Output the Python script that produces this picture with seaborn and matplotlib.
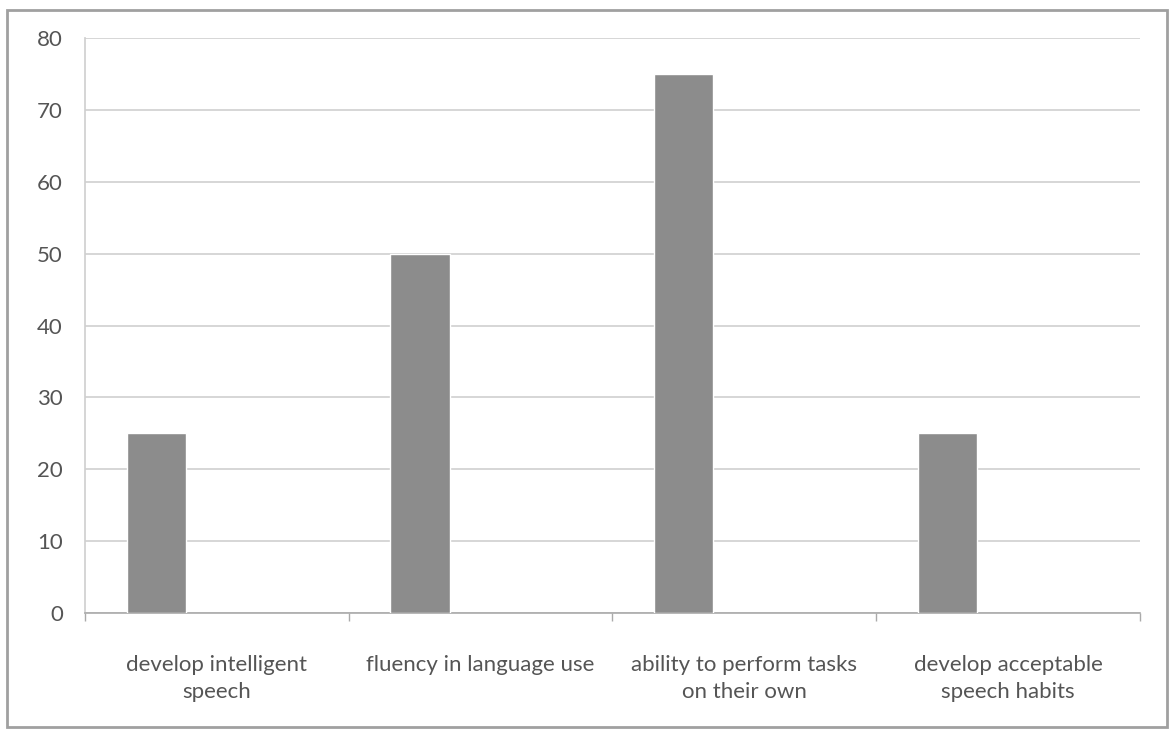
import matplotlib
matplotlib.use("Agg")
import matplotlib.pyplot as plt
import numpy as np
import pandas as pd
import seaborn as sns
from matplotlib.patches import Rectangle

categories = [
    "develop intelligent\nspeech",
    "fluency in language use",
    "ability to perform tasks\non their own",
    "develop acceptable\nspeech habits",
]
values = [25, 50, 75, 25]
y_ticks = [0, 10, 20, 30, 40, 50, 60, 70, 80]

sns.set_theme(style="white")
plt.rcParams["font.family"] = ["Lato", "DejaVu Sans"]

df = pd.DataFrame({"category": categories, "value": values})

fig = plt.figure(figsize=(11.74, 7.33), dpi=100)
ax = fig.add_axes([0.0724, 0.1637, 0.8986, 0.7843])

sns.barplot(data=df, x="category", y="value", color="#8c8c8c", width=0.225,
            saturation=1, ax=ax, zorder=3)

# Excel-style slots: bar sits left of slot centre
ax.set_xlim(-0.27, 3.73)
ax.set_ylim(0, 80)
ax.set_yticks(y_ticks)
ax.grid(axis="y", color="#cfcfcf", linewidth=1.2, zorder=0)
ax.set_xlabel("")
ax.set_ylabel("")

pos = np.arange(len(categories))
ax.set_xticks(pos + 0.23)
ax.set_xticklabels(categories, fontsize=16, color="#555555", linespacing=1.45)
ax.set_xticks(np.arange(len(categories) + 1) - 0.27, minor=True)
ax.tick_params(axis="x", which="major", length=0, pad=30)
ax.tick_params(axis="x", which="minor", length=6, color="#aaaaaa", width=1,
               direction="out", bottom=True)
ax.tick_params(axis="y", length=0, labelsize=16, labelcolor="#555555", pad=16)

for s in ["top", "right"]:
    ax.spines[s].set_visible(False)
ax.spines["left"].set_color("#d0d0d0")
ax.spines["bottom"].set_color("#aaaaaa")
ax.spines["bottom"].set_linewidth(1.2)

# outer chart frame
fig.patches.append(Rectangle((0.006, 0.008), 0.988, 0.978, transform=fig.transFigure,
                             fill=False, edgecolor="#a0a0a0", linewidth=2))

fig.savefig("out.png", dpi=100)
